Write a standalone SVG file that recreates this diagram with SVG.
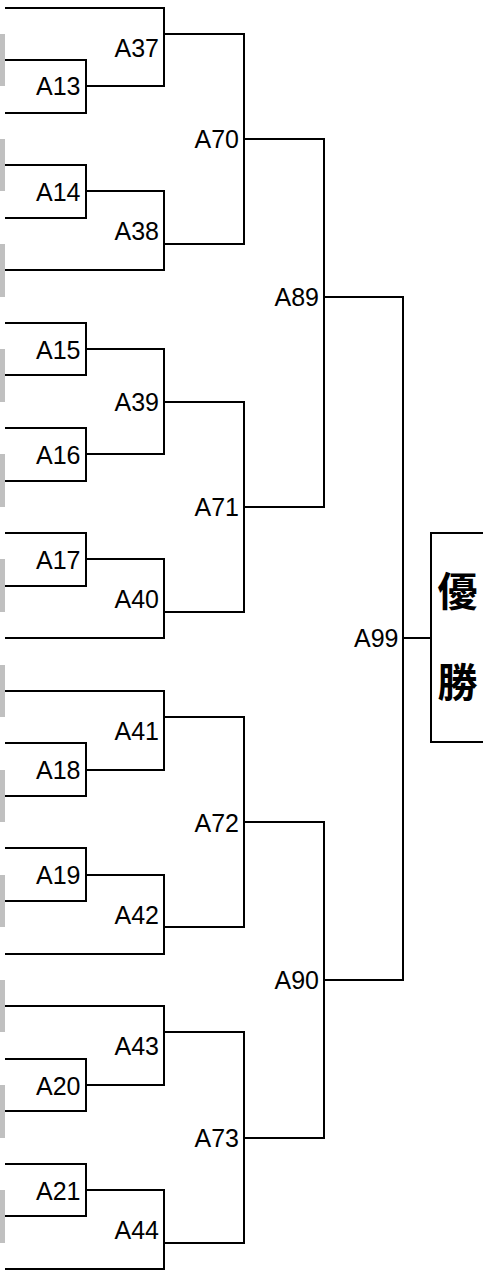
<svg xmlns="http://www.w3.org/2000/svg" width="483" height="1274" viewBox="0 0 483 1274">
<style>
.ln{fill:none;stroke:#000;stroke-width:2}
.gb{fill:#c0c0c0}
.lbl{font-family:"Liberation Sans",Arial,sans-serif;font-size:25px;text-anchor:end;fill:#000}
.win{font-family:"Noto Sans CJK JP","Noto Sans CJK SC",sans-serif;font-size:40px;font-weight:700;text-anchor:middle;fill:#000}
</style>
<rect width="483" height="1274" fill="#fff"/>
<g id="slots">
<rect class="gb" x="0" y="34" width="5" height="52"/>
<rect class="gb" x="0" y="139" width="5" height="52"/>
<rect class="gb" x="0" y="244" width="5" height="53"/>
<rect class="gb" x="0" y="349" width="5" height="53"/>
<rect class="gb" x="0" y="454" width="5" height="53"/>
<rect class="gb" x="0" y="559" width="5" height="53"/>
<rect class="gb" x="0" y="665" width="5" height="52"/>
<rect class="gb" x="0" y="770" width="5" height="52"/>
<rect class="gb" x="0" y="875" width="5" height="52"/>
<rect class="gb" x="0" y="980" width="5" height="52"/>
<rect class="gb" x="0" y="1085" width="5" height="53"/>
<rect class="gb" x="0" y="1190" width="5" height="53"/>
</g>
<g id="connectors">
<path class="ln" d="M5,60 H86 V113 H5"/>
<path class="ln" d="M5,165 H86 V218 H5"/>
<path class="ln" d="M5,323 H86 V375 H5"/>
<path class="ln" d="M5,428 H86 V481 H5"/>
<path class="ln" d="M5,533 H86 V586 H5"/>
<path class="ln" d="M5,743 H86 V796 H5"/>
<path class="ln" d="M5,848 H86 V901 H5"/>
<path class="ln" d="M5,1059 H86 V1111 H5"/>
<path class="ln" d="M5,1164 H86 V1216 H5"/>
<path class="ln" d="M5,8 H164 V86 H86"/>
<path class="ln" d="M86,191 H164 V270 H5"/>
<path class="ln" d="M86,349 H164 V454 H86"/>
<path class="ln" d="M86,559 H164 V638 H5"/>
<path class="ln" d="M5,691 H164 V770 H86"/>
<path class="ln" d="M86,875 H164 V954 H5"/>
<path class="ln" d="M5,1006 H164 V1085 H86"/>
<path class="ln" d="M86,1190 H164 V1269 H5"/>
<path class="ln" d="M164,34 H244 V244 H164"/>
<path class="ln" d="M164,402 H244 V612 H164"/>
<path class="ln" d="M164,717 H244 V927 H164"/>
<path class="ln" d="M164,1032 H244 V1243 H164"/>
<path class="ln" d="M244,139 H324 V507 H244"/>
<path class="ln" d="M244,822 H324 V1138 H244"/>
<path class="ln" d="M324,297 H403 V980 H324"/>
<path class="ln" d="M403,638 H431"/>
</g>
<g id="A13"><text class="lbl" x="80.5" y="95">A13</text></g>
<g id="A14"><text class="lbl" x="80.5" y="200.5">A14</text></g>
<g id="A15"><text class="lbl" x="80.5" y="358.5">A15</text></g>
<g id="A16"><text class="lbl" x="80.5" y="463.5">A16</text></g>
<g id="A17"><text class="lbl" x="80.5" y="568.5">A17</text></g>
<g id="A18"><text class="lbl" x="80.5" y="778.5">A18</text></g>
<g id="A19"><text class="lbl" x="80.5" y="884">A19</text></g>
<g id="A20"><text class="lbl" x="80.5" y="1094.5">A20</text></g>
<g id="A21"><text class="lbl" x="80.5" y="1199.5">A21</text></g>
<g id="A37"><text class="lbl" x="159" y="56.5">A37</text></g>
<g id="A38"><text class="lbl" x="159" y="240">A38</text></g>
<g id="A39"><text class="lbl" x="159" y="411">A39</text></g>
<g id="A40"><text class="lbl" x="159" y="608">A40</text></g>
<g id="A41"><text class="lbl" x="159" y="739.5">A41</text></g>
<g id="A42"><text class="lbl" x="159" y="923.5">A42</text></g>
<g id="A43"><text class="lbl" x="159" y="1054.5">A43</text></g>
<g id="A44"><text class="lbl" x="159" y="1239">A44</text></g>
<g id="A70"><text class="lbl" x="239" y="148">A70</text></g>
<g id="A71"><text class="lbl" x="239" y="516">A71</text></g>
<g id="A72"><text class="lbl" x="239" y="831.5">A72</text></g>
<g id="A73"><text class="lbl" x="239" y="1147">A73</text></g>
<g id="A89"><text class="lbl" x="319" y="306">A89</text></g>
<g id="A90"><text class="lbl" x="319" y="989">A90</text></g>
<g id="A99"><text class="lbl" x="398.5" y="647">A99</text></g>
<g id="champion">
<rect class="ln" x="431" y="533" width="60" height="209"/>
<text class="win" x="457.5" y="606">優</text>
<text class="win" x="457.5" y="697">勝</text>
</g>
</svg>
